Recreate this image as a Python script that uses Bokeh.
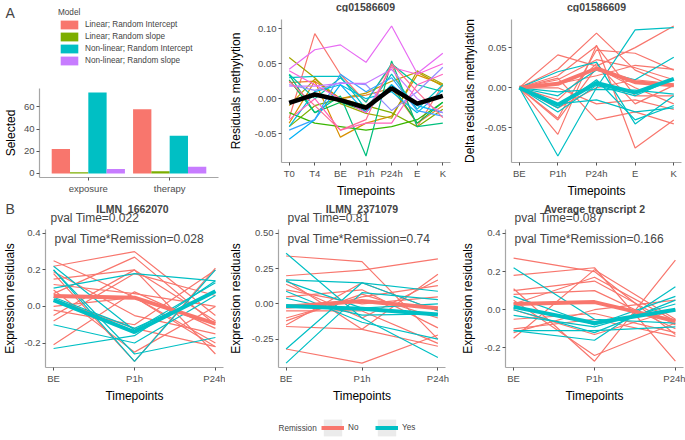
from bokeh.plotting import figure
from bokeh.models import (ColumnDataSource, Legend, LegendItem, Label, FixedTicker,
                          NumeralTickFormatter, Range1d)
from bokeh.layouts import column, row
from bokeh.embed import file_html
from bokeh.resources import INLINE

NAN = float("nan")

# ---------------- data ----------------
models = ["Linear; Random Intercept", "Linear; Random slope",
          "Non-linear; Random Intercept", "Non-linear; Random slope"]
groups = ["exposure", "therapy"]
exposure_sel = [22, 1, 73, 4]
therapy_sel = [58, 2, 34, 6]

meth_title = "cg01586609"
meth_time = ["T0", "T4", "BE", "P1h", "P24h", "E", "K"]
meth_res = [
    [-0.028, 0.093, 0.035, -0.005, 0.048, -0.040, 0.020],
    [0.023, 0.025, 0.000, 0.005, 0.015, -0.035, -0.010],
    [-0.035, 0.025, -0.055, -0.035, -0.025, 0.034, 0.020],
    [-0.010, 0.028, 0.000, 0.008, 0.025, 0.038, 0.018],
    [0.059, 0.030, -0.007, -0.021, -0.028, 0.040, 0.021],
    [-0.040, -0.010, 0.000, -0.010, -0.020, -0.040, -0.015],
    [-0.020, -0.035, -0.040, -0.045, -0.040, -0.030, -0.005],
    [0.027, -0.020, -0.005, -0.018, 0.020, -0.035, -0.005],
    [0.034, -0.020, 0.004, -0.082, 0.054, -0.040, -0.035],
    [0.035, 0.000, 0.030, -0.005, 0.050, 0.020, 0.010],
    [0.030, 0.032, 0.032, -0.015, 0.035, -0.015, 0.020],
    [-0.040, 0.010, 0.020, 0.000, 0.010, -0.020, 0.012],
    [-0.058, -0.030, 0.020, -0.020, 0.020, -0.010, -0.020],
    [-0.045, -0.030, 0.035, 0.010, 0.030, -0.017, -0.025],
    [0.020, 0.012, 0.023, 0.020, -0.017, 0.010, 0.045],
    [0.018, 0.018, 0.022, 0.022, 0.042, 0.000, -0.020],
    [0.042, 0.070, 0.077, 0.052, 0.104, 0.036, 0.065],
    [0.040, 0.020, 0.000, -0.020, 0.045, 0.035, 0.050],
    [-0.030, 0.000, -0.045, -0.035, -0.035, 0.020, 0.035],
    [0.025, -0.010, -0.045, -0.030, 0.050, 0.010, -0.027],
]
meth_mean = [-0.006, 0.006, -0.002, -0.013, 0.015, -0.007, 0.004]

delta_time = ["BE", "P1h", "P24h", "E", "K"]
delta_no = [
    [0, 0.041, 0.027, 0.050, 0.077],
    [0, 0.023, 0.068, 0.022, 0.002],
    [0, -0.058, 0.053, -0.075, -0.040],
    [0, -0.038, 0.047, 0.043, 0.022],
    [0, 0.012, -0.040, -0.030, -0.045],
    [0, -0.040, 0.025, 0.000, -0.020],
    [0, 0.010, 0.035, 0.025, 0.010],
    [0, 0.000, -0.020, -0.015, -0.027],
    [0, -0.015, 0.030, -0.020, 0.003],
    [0, 0.005, 0.015, 0.028, 0.023],
    [0, 0.015, 0.052, -0.010, -0.010],
    [0, -0.025, 0.000, 0.010, 0.005],
]
delta_yes = [
    [0, -0.085, 0.000, 0.072, 0.075],
    [0, 0.020, 0.032, -0.045, -0.010],
    [0, -0.025, 0.010, -0.040, -0.022],
    [0, -0.010, 0.022, 0.010, 0.038],
    [0, -0.020, -0.015, -0.030, -0.025],
    [0, -0.005, -0.002, -0.003, -0.008],
    [0, -0.030, 0.003, -0.010, 0.011],
]
delta_no_mean = [0, 0.005, 0.024, 0.007, 0.003]
delta_yes_mean = [0, -0.021, 0.006, -0.006, 0.011]

expr_time = ["BE", "P1h", "P24h"]
ilmn1_no = [
    [0.25, 0.05, -0.22], [0.22, 0.30, -0.05], [0.18, -0.30, 0.21],
    [0.15, 0.20, -0.26], [0.12, 0.07, 0.00], [0.07, 0.27, -0.10],
    [0.00, 0.05, -0.20], [-0.02, -0.10, 0.20], [-0.08, 0.18, 0.06],
    [-0.21, 0.08, -0.12], [0.09, -0.25, 0.00], [0.04, -0.12, -0.22],
    [-0.05, 0.20, -0.08], [0.19, -0.05, -0.15],
]
ilmn1_yes = [
    [0.20, -0.30, 0.20], [0.22, -0.13, 0.13], [-0.23, -0.16, 0.14],
    [0.10, 0.18, 0.14], [-0.10, -0.20, 0.06], [0.20, -0.26, -0.17],
    [0.05, -0.12, 0.08],
]
ilmn1_no_mean = [0.057, 0.048, -0.094]
ilmn1_yes_mean = [0.035, -0.14, 0.083]

ilmn2_no = [
    [0.34, 0.30, -0.25], [0.20, 0.24, 0.32], [0.17, -0.18, 0.21],
    [-0.32, -0.42, -0.22], [0.14, -0.10, 0.17], [-0.15, 0.15, -0.05],
    [-0.10, 0.05, 0.13], [-0.16, -0.18, -0.30], [0.05, 0.10, -0.17],
    [-0.05, -0.05, -0.28], [0.10, 0.00, 0.05], [-0.12, 0.07, -0.10],
]
ilmn2_yes = [
    [0.36, -0.10, -0.38], [0.17, 0.15, 0.09], [-0.42, 0.08, 0.03],
    [0.09, -0.13, -0.25], [-0.32, 0.15, -0.05], [0.04, -0.08, -0.07],
    [0.16, -0.03, 0.00],
]
ilmn2_no_mean = [-0.02, 0.02, -0.03]
ilmn2_yes_mean = [-0.015, -0.035, -0.075]

avg2_no = [
    [0.27, 0.20, -0.13], [0.18, 0.22, -0.27], [0.11, -0.27, 0.26],
    [0.10, 0.15, -0.08], [-0.15, 0.21, -0.05], [0.05, -0.24, -0.07],
    [-0.10, -0.05, -0.14], [0.08, 0.10, -0.10], [-0.12, 0.00, 0.05],
    [0.00, -0.13, 0.00], [0.03, 0.17, -0.06], [-0.05, -0.02, -0.12],
]
avg2_yes = [
    [0.22, -0.05, -0.07], [-0.11, -0.16, 0.12], [0.07, -0.08, 0.07],
    [-0.11, -0.11, -0.09], [-0.03, -0.09, 0.03], [0.00, -0.12, 0.05],
]
avg2_no_mean = [0.03, 0.04, -0.06]
avg2_yes_mean = [0.015, -0.07, 0.00]

expr_titles = ["ILMN_1662070", "ILMN_2371079", "Average transcript 2"]
pval_time = ["0.022", "0.81", "0.087"]
pval_inter = ["0.028", "0.74", "0.166"]
remission = ["No", "Yes"]

# ---------------- styles ----------------
FONT = "Liberation Sans"
RED = "#F8766D"
TEAL = "#00BFC4"
MODEL_COLORS = ["#F8766D", "#7CAE00", "#00BFC4", "#C77CFF"]
HUE20 = ["#F8766D", "#EA8331", "#D89000", "#C09B00", "#A3A500", "#7CAE00",
         "#39B600", "#00BB4E", "#00BF7D", "#00C1A3", "#00BFC4", "#00BAE0",
         "#00B0F6", "#35A2FF", "#9590FF", "#C77CFF", "#E76BF3", "#FA62DB",
         "#FF62BC", "#FF6C91"]
TICK_FS = "9.5px"
AXLAB_FS = "12px"


def blank(w, h):
    p = figure(width=w, height=h, x_range=Range1d(0, w), y_range=Range1d(0, h),
               output_backend="svg", toolbar_location=None,
               x_axis_location=None, y_axis_location=None,
               min_border_left=0, min_border_right=0, min_border_top=0,
               min_border_bottom=0)
    p.outline_line_color = None
    p.xgrid.visible = False
    p.ygrid.visible = False
    return p


def mkfig(w, h, left, right, top, bottom, xr, yr):
    p = figure(width=w, height=h, x_range=Range1d(*xr), y_range=Range1d(*yr),
               output_backend="svg", toolbar_location=None,
               min_border_left=left, min_border_right=right,
               min_border_top=top, min_border_bottom=bottom)
    p.outline_line_color = None
    p.xgrid.visible = False
    p.ygrid.visible = False
    for ax in (p.xaxis[0], p.yaxis[0]):
        ax.axis_line_color = "#A6A6A6"
        ax.axis_line_width = 1.2
        ax.major_tick_line_color = "#555555"
        ax.major_tick_out = 3
        ax.major_tick_in = 0
        ax.minor_tick_line_color = None
        ax.major_label_text_font = FONT
        ax.major_label_text_font_size = TICK_FS
        ax.major_label_text_color = "#4D4D4D"
        ax.major_label_standoff = 2
        ax.axis_label_text_font = FONT
        ax.axis_label_text_font_size = AXLAB_FS
        ax.axis_label_text_font_style = "normal"
        ax.axis_label_text_color = "black"
    return p


def cat_x(p, labels):
    ticks = list(range(1, len(labels) + 1))
    p.xaxis[0].ticker = FixedTicker(ticks=ticks)
    p.xaxis[0].major_label_overrides = {t: l for t, l in zip(ticks, labels)}


def xrange_for(n):
    pad = 0.05 * (n - 1)
    return (1 - pad, n + pad)


# ---------------- Panel A: legend strip ----------------
pAL = blank(225, 88)
items = []
for k, m in enumerate(models):
    r = pAL.vbar(x=[NAN], top=[NAN], width=1, fill_color=MODEL_COLORS[k], line_color=None)
    items.append(LegendItem(label=m, renderers=[r]))
legA = Legend(items=items, location=(58, 22), title="Model",
              title_text_font=FONT, title_text_font_size="8.2px",
              title_text_font_style="normal", title_standoff=2,
              label_text_font=FONT, label_text_font_size="8.2px",
              glyph_width=22, glyph_height=11, label_height=11, spacing=1,
              label_standoff=5, padding=0, margin=0,
              border_line_color=None, background_fill_alpha=0)
pAL.add_layout(legA, "center")
pAL.add_layout(Label(x=5, y=76, text="A", text_font=FONT, text_font_size="14px",
                     text_baseline="middle"))

# ---------------- Panel A: bars ----------------
pA = mkfig(225, 112, 33, 7, 0, 23, (0.4, 2.6), (-3.65, 76.65))
bw = 0.225
for k, m in enumerate(models):
    xs = [g + 1 + (k - 1.5) * bw for g in range(len(groups))]
    pA.vbar(x=xs, top=[exposure_sel[k], therapy_sel[k]], bottom=0, width=bw,
            fill_color=MODEL_COLORS[k], line_color=None)
cat_x(pA, groups)
pA.yaxis[0].ticker = FixedTicker(ticks=[0, 20, 40, 60])
pA.yaxis[0].axis_label = "Selected"
pA.yaxis[0].axis_label_standoff = 3

# ---------------- top middle: methylation residuals ----------------
TS = 12            # title strip height
TH = 200 - TS      # figure height
pM = mkfig(230, TH, 55, 5, 7, 38, xrange_for(len(meth_time)), (-0.0913, 0.1133))
xsM = list(range(1, len(meth_time) + 1))
srcM = ColumnDataSource(dict(xs=[xsM] * len(meth_res), ys=meth_res,
                             color=HUE20[:len(meth_res)]))
pM.multi_line(xs="xs", ys="ys", line_color="color", line_width=1.2, source=srcM)
pM.line(xsM, meth_mean, line_color="black", line_width=4.5)
cat_x(pM, meth_time)
pM.yaxis[0].ticker = FixedTicker(ticks=[-0.05, 0.0, 0.05, 0.10])
pM.yaxis[0].formatter = NumeralTickFormatter(format="0.00")
pM.yaxis[0].axis_label = "Residuals methylytion"
pM.yaxis[0].axis_label_standoff = 9
pM.xaxis[0].axis_label = "Timepoints"
pM.xaxis[0].axis_label_standoff = 2

# ---------------- top right: delta residuals ----------------
pR = mkfig(230, TH, 56, 4, 7, 38, xrange_for(len(delta_time)), (-0.093, 0.085))
xsR = list(range(1, len(delta_time) + 1))
pR.multi_line(xs=[xsR] * len(delta_no), ys=delta_no, line_color=RED, line_width=1.2)
pR.multi_line(xs=[xsR] * len(delta_yes), ys=delta_yes, line_color=TEAL, line_width=1.2)
pR.line(xsR, delta_no_mean, line_color=RED, line_width=4)
pR.line(xsR, delta_yes_mean, line_color=TEAL, line_width=4)
cat_x(pR, delta_time)
pR.yaxis[0].ticker = FixedTicker(ticks=[-0.05, 0.0, 0.05])
pR.yaxis[0].formatter = NumeralTickFormatter(format="0.00")
pR.yaxis[0].axis_label = "Delta residuals methylation"
pR.yaxis[0].axis_label_standoff = 5
pR.xaxis[0].axis_label = "Timepoints"
pR.xaxis[0].axis_label_standoff = 2

# title strip above the two methylation panels
pTS = blank(460, TS)
for cx in (55 + 170 / 2, 230 + 56 + 170 / 2):
    pTS.add_layout(Label(x=cx, y=TS, text=meth_title, text_font=FONT,
                         text_font_size="10.5px", text_font_style="bold",
                         text_align="center", text_baseline="top"))

# ---------------- panel B ----------------
SH = 25           # strip above the panels
BT = 4            # top border
BH = 180          # figure height
BB = 35           # bottom border
FH = BH - BB - BT # frame height


def expr_panel(w, left, right, yr, no, yes, no_mean, yes_mean, yticks, fmt, pv2, lstand):
    p = mkfig(w, BH, left, right, BT, BB, xrange_for(len(expr_time)), yr)
    xs = list(range(1, len(expr_time) + 1))
    p.multi_line(xs=[xs] * len(no), ys=no, line_color=RED, line_width=1.2)
    p.multi_line(xs=[xs] * len(yes), ys=yes, line_color=TEAL, line_width=1.2)
    p.line(xs, no_mean, line_color=RED, line_width=4)
    p.line(xs, yes_mean, line_color=TEAL, line_width=4)
    cat_x(p, expr_time)
    p.yaxis[0].ticker = FixedTicker(ticks=yticks)
    p.yaxis[0].formatter = NumeralTickFormatter(format=fmt)
    p.yaxis[0].axis_label = "Expression residuals"
    p.yaxis[0].axis_label_standoff = lstand
    p.xaxis[0].axis_label = "Timepoints"
    p.xaxis[0].axis_label_standoff = 2
    p.add_layout(Label(x=9, y=FH - 12, x_units="screen", y_units="screen",
                       text="pval Time*Remission=" + pv2, text_font=FONT,
                       text_font_size="12px", text_baseline="middle"))
    return p


BW = [225, 230, 230]
BL = [41, 53, 50]
BR = [2, 10, 2]
bL = expr_panel(BW[0], BL[0], BR[0], (-0.334, 0.421), ilmn1_no, ilmn1_yes,
                ilmn1_no_mean, ilmn1_yes_mean, [-0.2, 0.0, 0.2, 0.4], "0.0",
                pval_inter[0], 4)
bM = expr_panel(BW[1], BL[1], BR[1], (-0.451, 0.528), ilmn2_no, ilmn2_yes,
                ilmn2_no_mean, ilmn2_yes_mean, [-0.25, 0.0, 0.25, 0.5], "0.00",
                pval_inter[1], 6)
bR = expr_panel(BW[2], BL[2], BR[2], (-0.303, 0.4205), avg2_no, avg2_yes,
                avg2_no_mean, avg2_yes_mean, [-0.2, 0.0, 0.2, 0.4], "0.0",
                pval_inter[2], 6)

# strip above panel B: panel letter, titles, first p-value line
pBS = blank(685, SH)
pBS.add_layout(Label(x=5, y=SH - 8, text="B", text_font=FONT, text_font_size="14px",
                     text_baseline="middle"))
x0 = 0
for i in range(3):
    fl = x0 + BL[i]
    fw = BW[i] - BL[i] - BR[i]
    pBS.add_layout(Label(x=fl + fw / 2, y=SH - 8.5, text=expr_titles[i], text_font=FONT,
                         text_font_size="10.5px", text_font_style="bold",
                         text_align="center", text_baseline="middle"))
    pBS.add_layout(Label(x=fl + 9, y=0.3, text="pval Time=" + pval_time[i],
                         text_font=FONT, text_font_size="12px",
                         text_baseline="bottom"))
    x0 += BW[i]

# bottom legend strip
LH = 35
pLS = blank(685, LH)
bg = pLS.rect(x=[NAN], y=[NAN], width=1, height=1, fill_color="#EBEBEB", line_color=None)
rn = pLS.line(x=[NAN, NAN], y=[NAN, NAN], line_color=RED, line_width=4)
ry = pLS.line(x=[NAN, NAN], y=[NAN, NAN], line_color=TEAL, line_width=4)
legB = Legend(items=[LegendItem(label=remission[0], renderers=[bg, rn]),
                     LegendItem(label=remission[1], renderers=[bg, ry])],
              location=(321, 2), orientation="horizontal",
              label_text_font=FONT, label_text_font_size="8.2px",
              glyph_width=23, glyph_height=21, label_height=21, spacing=7,
              label_standoff=4, padding=0, margin=0,
              border_line_color=None, background_fill_alpha=0)
pLS.add_layout(legB, "center")
pLS.add_layout(Label(x=278, y=12.5, text="Remission", text_font=FONT,
                     text_font_size="8.2px", text_baseline="middle"))

top = row(column(row(pAL), row(pA)), column(row(pTS), row(pM, pR)))
layout = column(top, pBS, row(bL, bM, bR), pLS)
open("out.html", "w").write(file_html(layout, INLINE))
